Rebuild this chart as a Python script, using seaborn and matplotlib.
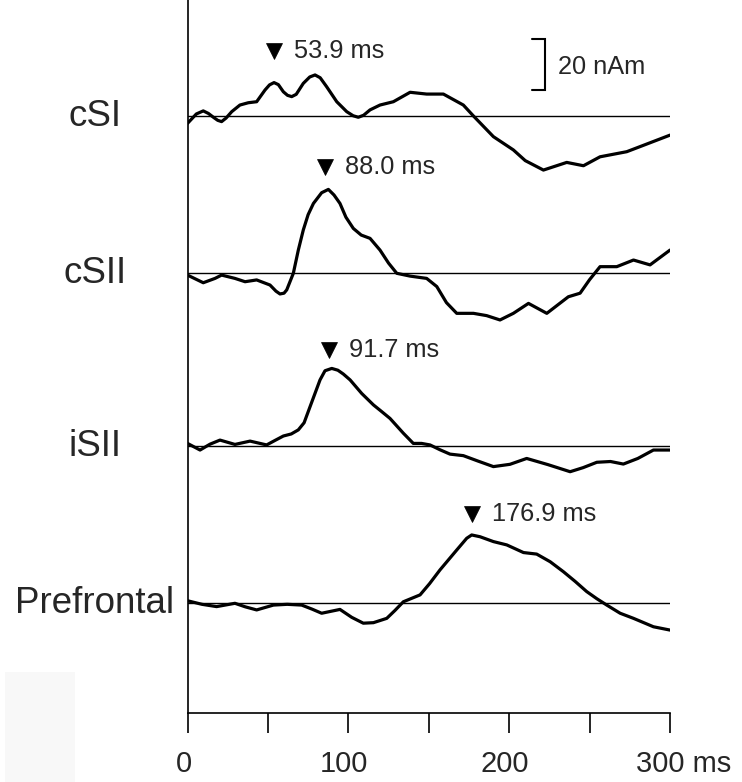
import numpy as np
import matplotlib
matplotlib.use("Agg")
import matplotlib.pyplot as plt
import matplotlib.transforms as mtransforms
from matplotlib.patches import Rectangle
import seaborn as sns

# === Source waveforms (time in ms, amplitude in nAm) ===
csi_t = [0, 5.5, 9.8, 13.0, 16.1, 18.8, 21.2, 24.0, 27.5, 32.6, 37.8, 43.0, 48.2, 51.0, 53.8,
         56.5, 59.6, 62.2, 64.8, 67.6, 72.0, 76.0, 79.3, 82.5, 86.5, 92.8, 99.0, 103.0, 106.2,
         109.5, 113.5, 119.7, 128.0, 138.4, 148.7, 159.1, 171.5, 177.8, 190.2, 202.6,
         210.0, 221.3, 235.8, 246.2, 256.5, 273.1, 281.4, 300.0]
csi_amp = [-2.9, 0.8, 2.0, 1.0, -0.5, -1.7, -2.2, -0.8, 1.7, 4.3, 5.2, 5.6, 10.2, 12.2, 13.1,
           12.3, 9.5, 8.1, 7.6, 8.5, 12.8, 15.3, 16.1, 15.0, 11.5, 5.6, 1.7, 0.1, -0.5,
           0.3, 2.4, 4.3, 5.6, 9.3, 8.6, 8.6, 4.3, 0.0, -8.1, -13.3,
           -17.5, -21.2, -18.2, -19.5, -16.0, -14.0, -12.0, -7.5]

csii_t = [0, 9.8, 17.1, 21.2, 29.5, 35.8, 43.0, 51.3, 55.0, 57.5, 60.0, 61.7, 65.8, 68.9, 72.0,
          75.0, 78.3, 83.4, 87.6, 91.1, 94.8, 98.5, 103.1, 108.0, 113.5, 119.7, 125.0, 130.1,
          138.4, 148.7, 155.0, 161.0, 167.4, 177.8, 186.0, 194.3, 202.6, 212.0, 223.4, 236.8,
          244.1, 250.0, 256.5, 266.9, 277.3, 287.6, 300.0]
csii_amp = [-0.7, -3.7, -2.0, -0.7, -2.0, -3.3, -2.6, -4.6, -7.0, -8.1, -7.8, -6.5, 0.0, 9.1, 17.0,
            23.0, 27.4, 31.6, 32.9, 30.7, 27.4, 22.0, 17.6, 15.0, 13.7, 9.1, 4.0, 0.0,
            -1.1, -2.0, -5.2, -11.5, -15.7, -15.7, -16.6, -18.3, -15.7, -11.8, -15.7, -9.2,
            -7.8, -2.5, 2.6, 2.6, 5.2, 3.3, 9.1]

isii_t = [0, 7.8, 14.0, 20.2, 29.5, 38.9, 49.2, 54.5, 59.6, 64.5, 68.9, 72.5, 76.2, 82.4, 85.5,
          89.7, 93.5, 96.9, 101.1, 108.3, 115.6, 120.5, 125.9, 134.2, 140.4, 145.5, 150.8, 157.0,
          163.2, 171.5, 180.5, 190.2, 200.5, 210.9, 224.0, 237.9, 246.0, 254.5, 263.0, 271.0,
          280.0, 289.7, 300.0]
isii_amp = [0.9, -1.7, 0.6, 2.2, 0.5, 1.8, 0.3, 2.1, 3.8, 4.6, 6.2, 9.0, 15.3, 25.8, 29.4,
            30.3, 29.6, 28.1, 25.8, 20.5, 16.0, 13.5, 10.7, 4.9, 0.9, 0.9, 0.3, -1.6,
            -3.3, -3.9, -6.0, -8.2, -7.3, -5.0, -7.4, -10.2, -8.6, -6.5, -6.2, -7.2,
            -5.0, -1.7, -1.7]

pfc_t = [0, 9.0, 18.1, 29.5, 36.0, 43.0, 53.4, 62.0, 71.0, 77.5, 83.4, 94.8, 102.1, 109.3,
         115.6, 123.9, 129.0, 134.2, 144.6, 150.5, 157.0, 167.4, 173.6, 176.7, 181.9, 190.2,
         198.5, 208.9, 217.1, 225.5, 233.7, 241.0, 248.2, 254.5, 260.7, 269.0, 277.3, 289.7,
         300.0]
pfc_amp = [1.0, -0.4, -1.3, 0.0, -1.4, -2.6, -0.7, -0.4, -0.7, -2.3, -3.9, -2.4, -5.5, -7.8,
           -7.6, -5.9, -2.8, 0.6, 3.3, 7.7, 13.1, 20.9, 25.5, 26.8, 26.1, 24.2,
           22.9, 19.9, 19.3, 16.3, 12.4, 8.6, 4.6, 1.8, -0.7, -3.9, -5.9, -9.2,
           -10.5]

sources = ["cSI", "cSII", "iSII", "Prefrontal"]
times = [csi_t, csii_t, isii_t, pfc_t]
amps = [csi_amp, csii_amp, isii_amp, pfc_amp]

# peak latency markers
peak_labels = ["53.9 ms", "88.0 ms", "91.7 ms", "176.9 ms"]
marker_t = [53.5, 85.7, 88.2, 176.7]
marker_amp = [25.4, 41.8, 37.7, 34.9]   # height of the triangle above each baseline (nAm)

tick_values = [0, 50, 100, 150, 200, 250, 300]
tick_labels = ["0", "", "100", "", "200", "", "300 ms"]

# === Layout ===
PX_PER_NAM = 2.55
AX_BOTTOM_PX = 712.7
baseline_px = [116.0, 273.3, 445.7, 603.3]          # trace baselines, pixels from top
offsets = [(AX_BOTTOM_PX - b) / PX_PER_NAM for b in baseline_px]

sns.set_style("ticks")
plt.rcParams["font.family"] = ["Liberation Sans", "DejaVu Sans"]

fig = plt.figure(figsize=(7.42, 7.82), dpi=100)
ax = fig.add_axes([187.5 / 742, (782 - AX_BOTTOM_PX) / 782, 482.5 / 742, AX_BOTTOM_PX / 782])
ax.set_xlim(0, 300)
ax.set_ylim(0, AX_BOTTOM_PX / PX_PER_NAM)

# faint scanning artefact bottom-left
fig.patches.append(Rectangle((5 / 742, 0), 70 / 742, 110 / 782, transform=fig.transFigure,
                             facecolor="#f8f8f8", edgecolor="none", zorder=0))

for name, t, a, off in zip(sources, times, amps, offsets):
    ax.axhline(off, color="black", lw=1.0, zorder=1)
    sns.lineplot(x=t, y=np.array(a) + off, color="black", lw=2.3, ax=ax,
                 sort=False, estimator=None, zorder=3)
    ax.lines[-1].set_solid_joinstyle("round")
    ax.text(-57.5, off - 10 / PX_PER_NAM, name, ha="center", va="baseline",
            fontsize=26.5, clip_on=False)

for lab, mt, ma, off in zip(peak_labels, marker_t, marker_amp, offsets):
    ax.plot([mt], [off + ma], marker="v", ms=11.5, mew=0.5, color="black", ls="none")
    ax.annotate(lab, (mt, off + ma), xytext=(20, -7), textcoords="offset pixels",
                ha="left", va="baseline", fontsize=18.3)

# 20 nAm scale bar
sb_top = (AX_BOTTOM_PX - 39) / PX_PER_NAM
sb_bot = sb_top - 20
ax.plot([214.3, 222.3, 222.3, 214.3], [sb_top, sb_top, sb_bot, sb_bot],
        color="black", lw=1.5, solid_joinstyle="miter")
ax.text(230.6, (AX_BOTTOM_PX - 74) / PX_PER_NAM, "20 nAm", ha="left", va="baseline",
        fontsize=18.3)

# axes styling
sns.despine(ax=ax)
for s in ["left", "bottom"]:
    ax.spines[s].set_linewidth(1.2)
    ax.spines[s].set_color("black")
ax.set_yticks([])
ax.set_xticks(tick_values)
ax.set_xticklabels(tick_labels, fontsize=21)
ax.tick_params(axis="x", length=14.4, width=1.2, pad=12.5, color="black", direction="out")
for lbl in ax.get_xticklabels():
    dx = 14 if lbl.get_text().endswith("ms") else -4
    lbl.set_transform(lbl.get_transform() +
                      mtransforms.ScaledTranslation(dx / 100, 0, fig.dpi_scale_trans))

fig.savefig("out.png", dpi=100)
